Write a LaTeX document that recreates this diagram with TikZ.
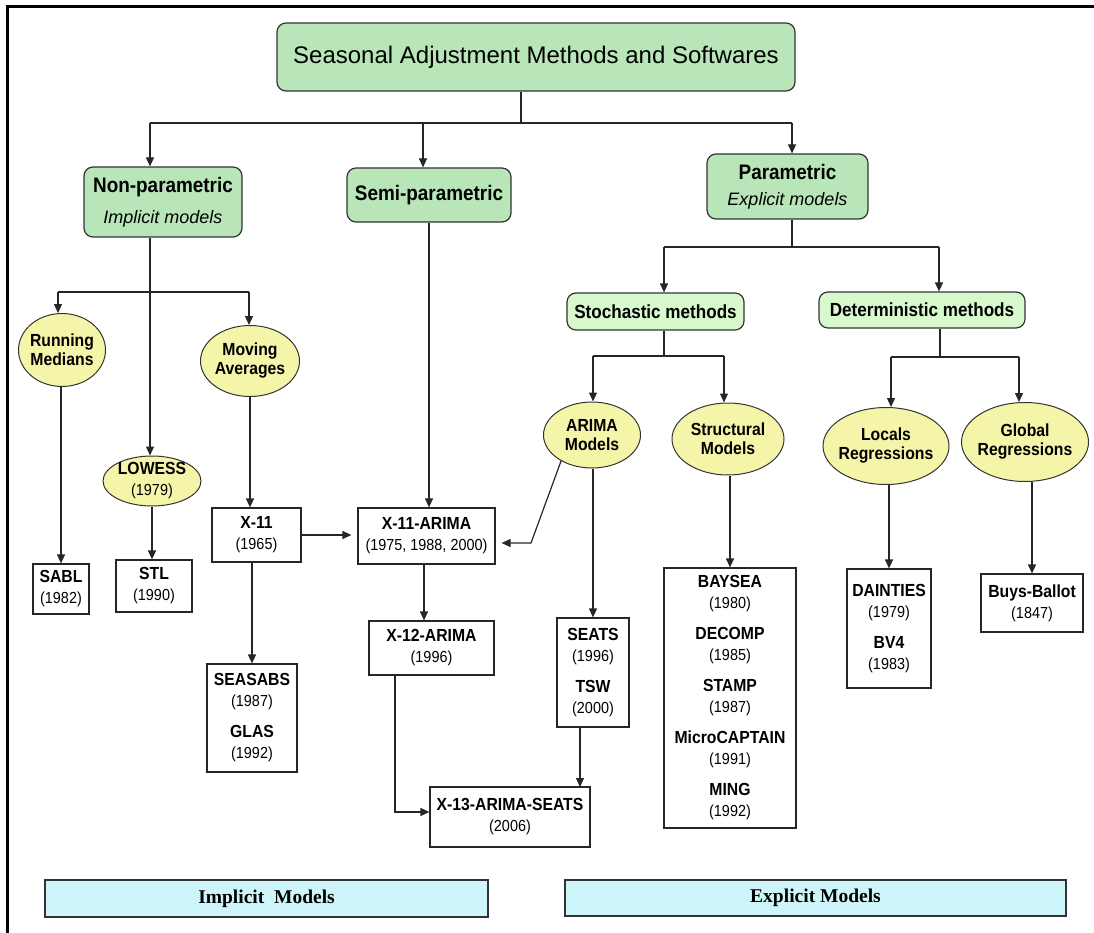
\documentclass[tikz,border=0pt]{standalone}
\usepackage{fontspec}
\setmainfont{Liberation Sans}
\newfontfamily\narrowfont[FakeStretch=0.9]{Liberation Sans}
\newfontfamily\bandfont{Liberation Serif}
\usetikzlibrary{arrows.meta,shapes.geometric}

\definecolor{topgreen}{RGB}{184,230,184}
\definecolor{subgreen}{RGB}{216,249,206}
\definecolor{ovalyellow}{RGB}{245,245,170}
\definecolor{bandcyan}{RGB}{205,245,250}

\newcommand{\fsz}[2]{\fontsize{#1}{#2}\selectfont}
\newcommand{\sw}[1]{{\bfseries\fsz{17.5}{21}#1}}

\tikzset{
  conn/.style={draw=black!85, line width=1.2pt},
  arr/.style={conn, -{Triangle[length=9pt,width=8pt]}},
  mainbox/.style={draw=black!80, line width=1.2pt, rounded corners=9pt, fill=topgreen, inner sep=0pt, align=center},
  subbox/.style={mainbox, fill=subgreen},
  oval/.style={ellipse, draw=black!80, line width=1pt, fill=ovalyellow, inner sep=0pt},
  ovaltext/.style={font=\narrowfont\bfseries\fsz{17.5}{19}, align=center, inner sep=0pt},
  softbox/.style={draw=black!85, line width=1.2pt, fill=white, inner sep=0pt, align=center, font=\narrowfont\fsz{16}{21}},
  band/.style={draw=black!80, line width=1.2pt, fill=bandcyan, inner sep=0pt, font=\bandfont\bfseries\fsz{19.5}{19.5}}
}

\begin{document}
\begin{tikzpicture}[x=1pt,y=-1pt]
\useasboundingbox (0,0) rectangle (1094,933);
\draw[line width=3pt] (7,933) -- (7,7) -- (1094,7);

% top levels
\node[mainbox, minimum width=518pt, minimum height=68pt, font=\fsz{24}{24}] (title) at (536,57) {Seasonal Adjustment Methods and Softwares};
\node[mainbox, minimum width=158pt, minimum height=70pt, font=\fsz{18}{31}] (nonpar) at (163,202) {{\narrowfont\bfseries\fsz{21}{31}Non-parametric}\\{\itshape Implicit models}};
\node[mainbox, minimum width=164pt, minimum height=54pt, font=\narrowfont\bfseries\fsz{21}{21}] (semipar) at (429,195) {Semi-parametric};
\node[mainbox, minimum width=161pt, minimum height=65pt, font=\fsz{18}{26}] (par) at (787.5,186.5) {{\narrowfont\bfseries\fsz{21}{26}Parametric}\\{\itshape Explicit models}};
\node[subbox, minimum width=177pt, minimum height=37pt, font=\narrowfont\bfseries\fsz{19}{19}] (stoch) at (655.5,311.5) {Stochastic methods};
\node[subbox, minimum width=206pt, minimum height=36pt, font=\narrowfont\bfseries\fsz{19}{19}] (determ) at (922,310) {Deterministic methods};

% ovals
\node[oval, minimum width=87pt, minimum height=73pt, label={[ovaltext]center:Running\\Medians}] (runmed) at (62,350) {};
\node[oval, minimum width=99pt, minimum height=71pt, label={[ovaltext]center:Moving\\Averages}] (movavg) at (250,361) {};
\node[oval, minimum width=98pt, minimum height=50pt, label={[ovaltext, font=\narrowfont\bfseries\fsz{17.5}{21}]center:LOWESS\\{\mdseries\fsz{16}{21}(1979)}}] (lowess) at (152,481) {};
\node[oval, minimum width=97pt, minimum height=66pt, label={[ovaltext]center:ARIMA\\Models}] (arimamod) at (592,435) {};
\node[oval, minimum width=112pt, minimum height=72pt, label={[ovaltext]center:Structural\\Models}] (structmod) at (728,439) {};
\node[oval, minimum width=126pt, minimum height=77pt, label={[ovaltext]center:Locals\\Regressions}] (localreg) at (886,446) {};
\node[oval, minimum width=127pt, minimum height=79pt, label={[ovaltext]center:Global\\Regressions}] (globalreg) at (1025,442) {};

% softwares
\node[softbox, minimum width=56pt, minimum height=50pt] (sabl) at (61,589) {\sw{SABL}\\(1982)};
\node[softbox, minimum width=76pt, minimum height=52pt] (stl) at (154,586) {\sw{STL}\\(1990)};
\node[softbox, minimum width=89pt, minimum height=54pt] (xeleven) at (256.5,535) {\sw{X-11}\\(1965)};
\node[softbox, minimum width=137pt, minimum height=56pt] (xelevenarima) at (426.5,536) {\sw{X-11-ARIMA}\\(1975, 1988, 2000)};
\node[softbox, minimum width=90pt, minimum height=108pt] (seasabs) at (252,718) {\sw{SEASABS}\\(1987)\\[10pt]\sw{GLAS}\\(1992)};
\node[softbox, minimum width=125pt, minimum height=54pt] (xtwelve) at (431.5,648) {\sw{X-12-ARIMA}\\(1996)};
\node[softbox, minimum width=72pt, minimum height=109pt] (seats) at (593,672.5) {\sw{SEATS}\\(1996)\\[10pt]\sw{TSW}\\(2000)};
\node[softbox, minimum width=160pt, minimum height=60pt] (xthirteen) at (510,817) {\sw{X-13-ARIMA-SEATS}\\(2006)};
\node[softbox, minimum width=132pt, minimum height=260pt] (baysea) at (730,698) {\sw{BAYSEA}\\(1980)\\[10pt]\sw{DECOMP}\\(1985)\\[10pt]\sw{STAMP}\\(1987)\\[10pt]\sw{MicroCAPTAIN}\\(1991)\\[10pt]\sw{MING}\\(1992)};
\node[softbox, minimum width=84pt, minimum height=119pt] (dainties) at (889,628.5) {\sw{DAINTIES}\\(1979)\\[10pt]\sw{BV4}\\(1983)};
\node[softbox, minimum width=102pt, minimum height=58pt] (buys) at (1032,603) {\sw{Buys-Ballot}\\(1847)};

% bands
\node[band, minimum width=443pt, minimum height=37pt] (implicit) at (266.5,898.5) {Implicit\ \ Models};
\node[band, minimum width=501pt, minimum height=36pt] (explicit) at (815.5,898) {Explicit Models};

% connectors
\coordinate (tj) at (521,123);
\coordinate (tl) at (150,123);
\coordinate (tm) at (423,123);
\coordinate (tr) at (792,123);
\draw[conn] (title.south -| tj) -- (tj);
\draw[conn] (tl) -- (tr);
\draw[arr] (tl) -- (tl |- nonpar.north);
\draw[arr] (tm) -- (tm |- semipar.north);
\draw[arr] (tr) -- (tr |- par.north);

\coordinate (pj) at (792,247);
\coordinate (pl) at (664,247);
\coordinate (pr) at (939,247);
\draw[conn] (par.south -| pj) -- (pj);
\draw[conn] (pl) -- (pr);
\draw[arr] (pl) -- (pl |- stoch.north);
\draw[arr] (pr) -- (pr |- determ.north);

\coordinate (sj) at (664,356);
\coordinate (sl) at (593,356);
\coordinate (sr) at (724,356);
\draw[conn] (stoch.south -| sj) -- (sj);
\draw[conn] (sl) -- (sr);
\draw[arr] (sl) -- (sl |- arimamod.north);
\draw[arr] (sr) -- (sr |- structmod.north);

\coordinate (dj) at (940,357);
\coordinate (dl) at (891,357);
\coordinate (dr) at (1019,357);
\draw[conn] (determ.south -| dj) -- (dj);
\draw[conn] (dl) -- (dr);
\draw[arr] (dl) -- (dl |- localreg.north);
\draw[arr] (dr) -- (dr |- globalreg.north);

\coordinate (nl) at (58,292);
\coordinate (nr) at (249,292);
\draw[conn] (nl) -- (nr);
\draw[arr] (nl) -- (nl |- runmed.north);
\draw[arr] (nr) -- (nr |- movavg.north);
\draw[arr] (nonpar.south -| tl) -- (tl |- lowess.north);

\draw[arr] (sabl.north |- runmed.south) -- (sabl.north);
\draw[arr] (lowess.south) -- (lowess.south |- stl.north);
\draw[arr] (movavg.south) -- (movavg.south |- xeleven.north);
\draw[arr] (seasabs.north |- xeleven.south) -- (seasabs.north);
\draw[arr, shorten >=6pt] (xeleven.east) -- (xeleven.east -| xelevenarima.west);
\draw[arr] (semipar.south) -- (semipar.south |- xelevenarima.north);
\coordinate (ak) at (531,543);
\draw[arr, shorten >=6pt] (arimamod.220) -- (ak) -- (ak -| xelevenarima.east);
\coordinate (xa) at (424,564);
\draw[arr] (xa) -- (xa |- xtwelve.north);
\coordinate (xk) at (395,812);
\draw[arr] (xtwelve.south -| xk) -- (xk) -- (xk -| xthirteen.west);
\coordinate (sk) at (580,787);
\draw[arr] (seats.south -| sk) -- (sk);
\draw[arr] (seats.north |- arimamod.south) -- (seats.north);
\draw[arr] (baysea.north |- structmod.south) -- (baysea.north);
\draw[arr] (dainties.north |- localreg.south) -- (dainties.north);
\draw[arr] (buys.north |- globalreg.south) -- (buys.north);
\end{tikzpicture}
\end{document}
